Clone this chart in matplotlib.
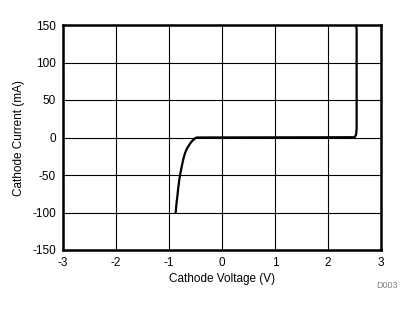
import numpy as np
import matplotlib
matplotlib.use("Agg")
import matplotlib.pyplot as plt

plt.rcParams['font.family'] = ['Liberation Sans', 'DejaVu Sans']
plt.rcParams['axes.unicode_minus'] = False

# cathode voltage (V) and current (mA)
voltage = [-0.874, -0.86, -0.843, -0.825, -0.805, -0.783, -0.76, -0.73, -0.698,
           -0.66, -0.617, -0.58, -0.54, -0.51, -0.48,
           0.0, 1.0, 2.0, 2.48, 2.51, 2.53, 2.54, 2.54, 2.53]
current = [-100, -89, -78.7, -67, -56, -47, -38.7, -29, -20.8,
           -14.5, -9.7, -6, -3, -1.2, 0,
           0.1, 0.2, 0.3, 0.4, 1.0, 4, 12, 145, 149]

xticks = [-3, -2, -1, 0, 1, 2, 3]
yticks = [-150, -100, -50, 0, 50, 100, 150]

fig = plt.figure(figsize=(4.14, 3.12), dpi=100)
ax = fig.add_axes([63/414, 1 - 250/312, 318/414, 225/312])

ax.plot(voltage, current, color='black', lw=1.6, solid_joinstyle='round')

ax.set_xlim(-3, 3)
ax.set_ylim(-150, 150)
ax.set_xticks(xticks)
ax.set_yticks(yticks)
ax.grid(True, color='black', lw=0.8)
ax.tick_params(length=0, labelsize=8.5, pad=5)
for s in ax.spines.values():
    s.set_linewidth(1.8)

ax.set_xlabel("Cathode Voltage (V)", fontsize=8.5, labelpad=3)
ax.set_ylabel("Cathode Current (mA)", fontsize=8.5, labelpad=5)
fig.text(387/414, 1 - 286/312, "D003", fontsize=6.5, color='#808080', ha='center', va='center')

fig.savefig("out.png", dpi=100)
